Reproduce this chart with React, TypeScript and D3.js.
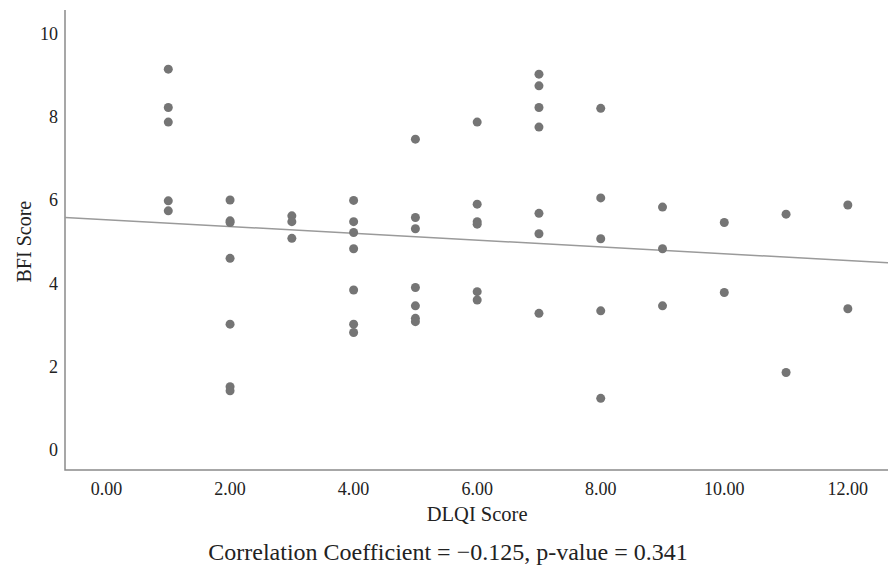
import * as d3 from "d3";
import { useEffect, useRef } from "react";

// DLQI score (x) and BFI score (y) for each patient
const dlqi = [
  1, 1, 1, 1, 1,
  2, 2, 2, 2, 2, 2, 2,
  3, 3, 3,
  4, 4, 4, 4, 4, 4, 4,
  5, 5, 5, 5, 5, 5, 5,
  6, 6, 6, 6, 6, 6,
  7, 7, 7, 7, 7, 7, 7,
  8, 8, 8, 8, 8,
  9, 9, 9,
  10, 10,
  11, 11,
  12, 12,
];
const bfi = [
  9.14, 8.22, 7.87, 5.98, 5.74,
  6.0, 5.5, 5.46, 4.6, 3.02, 1.52, 1.42,
  5.62, 5.48, 5.08,
  5.99, 5.48, 5.22, 4.83, 3.84, 3.02, 2.82,
  7.46, 5.58, 5.31, 3.9, 3.46, 3.16, 3.08,
  7.87, 5.9, 5.48, 5.42, 3.8, 3.6,
  9.02, 8.74, 8.22, 7.75, 5.68, 5.19, 3.28,
  8.2, 6.05, 5.07, 3.34, 1.24,
  5.83, 4.83, 3.46,
  5.46, 3.78,
  5.66, 1.86,
  5.88, 3.39,
];

const xTicks = [0, 2, 4, 6, 8, 10, 12];
const yTicks = [0, 2, 4, 6, 8, 10];

// fit line
const fitIntercept = 5.527;
const fitSlope = -0.0818;

export default function App() {
  const ref = useRef<SVGSVGElement>(null);

  useEffect(() => {
    const width = 888;
    const height = 568;
    const left = 65, right = 888, top = 10, bottom = 470;

    const svg = d3.select(ref.current)
      .attr("width", width)
      .attr("height", height);

    svg.selectAll("*").remove();

    const x = d3.scaleLinear().domain([-0.672, 12.65]).range([left, right]);
    const y = d3.scaleLinear().domain([-0.48, 10.56]).range([bottom, top]);

    const font = "'Liberation Serif', 'DejaVu Serif', serif";

    // axis lines
    svg.append("path")
      .attr("d", `M${left},${top}V${bottom}H${right}`)
      .attr("fill", "none")
      .attr("stroke", "#8a8a8a")
      .attr("stroke-width", 1.5);

    // tick labels
    svg.selectAll(".xtick")
      .data(xTicks)
      .join("text")
      .attr("x", d => x(d))
      .attr("y", 495)
      .attr("text-anchor", "middle")
      .attr("font-family", font)
      .attr("font-size", 18)
      .attr("fill", "#222")
      .text(d => d.toFixed(2));

    svg.selectAll(".ytick")
      .data(yTicks)
      .join("text")
      .attr("x", 58)
      .attr("y", d => y(d))
      .attr("dy", "0.35em")
      .attr("text-anchor", "end")
      .attr("font-family", font)
      .attr("font-size", 18)
      .attr("fill", "#222")
      .text(d => d);

    // axis titles
    svg.append("text")
      .attr("x", x(6))
      .attr("y", 521)
      .attr("text-anchor", "middle")
      .attr("font-family", font)
      .attr("font-size", 20.5)
      .attr("fill", "#222")
      .text("DLQI Score");

    svg.append("text")
      .attr("transform", `translate(31,${y(5)}) rotate(-90)`)
      .attr("text-anchor", "middle")
      .attr("font-family", font)
      .attr("font-size", 20)
      .attr("fill", "#222")
      .text("BFI Score");

    svg.append("text")
      .attr("x", 448)
      .attr("y", 560)
      .attr("text-anchor", "middle")
      .attr("font-family", font)
      .attr("font-size", 24)
      .attr("fill", "#222")
      .text("Correlation Coefficient = \u22120.125, p-value = 0.341");

    // regression line
    const [x0, x1] = x.domain();
    svg.append("line")
      .attr("x1", x(x0))
      .attr("y1", y(fitIntercept + fitSlope * x0))
      .attr("x2", x(x1))
      .attr("y2", y(fitIntercept + fitSlope * x1))
      .attr("stroke", "#9a9a9a")
      .attr("stroke-width", 1.5);

    // points
    svg.selectAll(".dot")
      .data(dlqi.map((d, i) => [d, bfi[i]]))
      .join("circle")
      .attr("cx", d => x(d[0]))
      .attr("cy", d => y(d[1]))
      .attr("r", 4.5)
      .attr("fill", "#757575");
  }, []);

  return (
    <svg ref={ref} style={{ position: "absolute", left: 0, top: 0, background: "#fff" }}></svg>
  );
}
